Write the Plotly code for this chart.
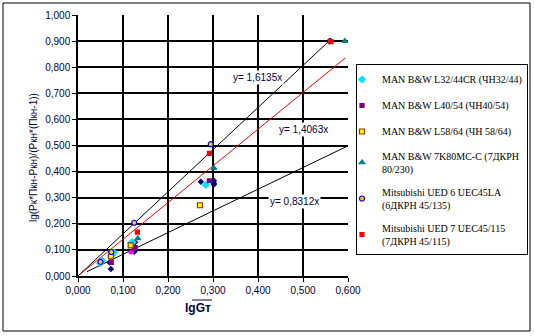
import plotly.graph_objects as go

# ---- data ----
cyan_x = [0.049, 0.054, 0.076, 0.080, 0.121, 0.119, 0.284]
cyan_y = [0.049, 0.059, 0.080, 0.091, 0.129, 0.128, 0.349]

purple_x = [0.074, 0.125, 0.127, 0.292]
purple_y = [0.052, 0.106, 0.109, 0.365]

brown_x = [0.073, 0.117, 0.271]
brown_y = [0.075, 0.117, 0.271]

teal_x = [0.133, 0.302, 0.593]
teal_y = [0.144, 0.413, 0.900]

blue_x = [0.050, 0.074, 0.125, 0.295, 0.560]
blue_y = [0.054, 0.092, 0.204, 0.505, 0.900]

red_x = [0.132, 0.292, 0.562]
red_y = [0.168, 0.470, 0.898]

navy_x = [0.070, 0.073, 0.125, 0.127, 0.128, 0.273, 0.302, 0.302, 0.302]
navy_y = [0.052, 0.027, 0.093, 0.129, 0.100, 0.361, 0.365, 0.355, 0.351]

magenta_x = [0.117, 0.120]
magenta_y = [0.091, 0.093]

trend_slopes = [1.6135, 1.4063, 0.8312]
trend_x_ranges = [(0.0, 0.558), (0.005, 0.594), (0.02, 0.600)]
trend_colors = ["black", "red", "black"]
trend_labels = ["y= 1,6135x", "y= 1,4063x", "y= 0,8312x"]
label_pos = [(0.398, 0.762), (0.500, 0.560), (0.482, 0.287)]

ticks = [i / 10 for i in range(11)]
yticktext = ["0,000", "0,100", "0,200", "0,300", "0,400", "0,500", "0,600", "0,700", "0,800", "0,900", "1,000"]
xticks = [i / 10 for i in range(7)]
xticktext = ["0,000", "0,100", "0,200", "0,300", "0,400", "0,500", "0,600"]

series = [
    ("MAN B&W L32/44CR (ЧН32/44)", cyan_x, cyan_y, "diamond", "#00E5FF", "#00E5FF", 5),
    ("MAN B&W L40/54 (ЧН40/54)", purple_x, purple_y, "square", "#800080", "#800080", 4),
    ("MAN B&W L58/64 (ЧН 58/64)", brown_x, brown_y, "square", "#FFFF00", "#993300", 5),
    ("MAN B&W 7K80MC-C (7ДКРН<br>80/230)", teal_x, teal_y, "triangle-up", "#008080", "#008080", 5),
    ("Mitsubishi UED 6 UEC45LA<br>(6ДКРН 45/135)", blue_x, blue_y, "circle", "#FFCC00", "#0000FF", 5),
    ("Mitsubishi UED 7 UEC45/115<br>(7ДКРН 45/115)", red_x, red_y, "square", "#FF0000", "#FF0000", 4),
]

W, H = 534, 336
L, R, T, B = 78, 186, 15, 60
PW, PH = W - L - R, H - T - B

def px_x(p):
    return (p - L) / PW

def px_y(p):
    return (H - B - p) / PH

fig = go.Figure()

# trend lines
for s, (x0, x1), c in zip(trend_slopes, trend_x_ranges, trend_colors):
    fig.add_trace(go.Scatter(x=[x0, x1], y=[s * x0, s * x1], mode="lines",
                             line=dict(color=c, width=1), showlegend=False, hoverinfo="skip"))

# series without legend entry
fig.add_trace(go.Scatter(x=navy_x, y=navy_y, mode="markers", showlegend=False,
                         marker=dict(symbol="diamond", size=5, color="#000080")))
fig.add_trace(go.Scatter(x=magenta_x, y=magenta_y, mode="markers", showlegend=False,
                         marker=dict(symbol="square", size=4, color="#FF00FF")))

for i, (name, xs, ys, sym, fill, edge, sz) in enumerate(series):
    fig.add_trace(go.Scatter(x=xs, y=ys, mode="markers", name=name, legendgroup=f"g{i}",
                             marker=dict(symbol=sym, size=sz, color=fill,
                                         line=dict(color=edge, width=1.2))))

for txt, (lx, ly) in zip(trend_labels, label_pos):
    fig.add_annotation(x=lx, y=ly, text=txt, showarrow=False, bgcolor="white",
                       xanchor="center", yanchor="middle",
                       font=dict(family="Liberation Sans, Arial", size=10, color="#000040"))

fig.add_annotation(xref="paper", yref="paper", x=px_x(33), y=px_y(158), text="lg(Pк*Пкн-Pкн)/(Pкн*(Пкн-1))",
                   textangle=-90, showarrow=False, xanchor="center", yanchor="middle",
                   font=dict(family="Liberation Sans, Arial", size=10, color="#000040"))
fig.add_annotation(xref="paper", yref="paper", x=px_x(198), y=px_y(308), text="<b>lgGт</b>",
                   showarrow=False, xanchor="center", yanchor="middle",
                   font=dict(family="Liberation Sans, Arial", size=12, color="#000040"))
# overline over "Gт"
fig.add_shape(type="line", xref="paper", yref="paper", x0=px_x(192), x1=px_x(212),
              y0=px_y(300), y1=px_y(300), line=dict(color="#000040", width=1))
# outer chart frame
fig.add_shape(type="rect", xref="paper", yref="paper", x0=px_x(3), x1=px_x(530),
              y0=px_y(331), y1=px_y(3), line=dict(color="black", width=1))

axis_common = dict(showgrid=True, gridcolor="black", gridwidth=1.5, showline=True, linecolor="black",
                   linewidth=1.5, ticks="outside", ticklen=4, tickcolor="black", zeroline=False,
                   tickfont=dict(family="Liberation Sans, Arial", size=10, color="#000040"), mirror=False)

fig.update_layout(
    width=W, height=H,
    margin=dict(l=L, r=R, t=T, b=B, autoexpand=False),
    paper_bgcolor="white", plot_bgcolor="white",
    xaxis=dict(range=[0, 0.6], tickvals=xticks, ticktext=xticktext, **axis_common),
    yaxis=dict(range=[0, 1.0], tickvals=ticks, ticktext=yticktext, **axis_common),
    legend=dict(xref="container", yref="container", x=356 / W, y=1 - 64 / H,
                xanchor="left", yanchor="top", indentation=-15, maxheight=300,
                bgcolor="white", bordercolor="black", borderwidth=1, tracegroupgap=7,
                font=dict(family="Liberation Serif, Times New Roman", size=10, color="black")),
    showlegend=True,
)

fig.write_html("out.html")
